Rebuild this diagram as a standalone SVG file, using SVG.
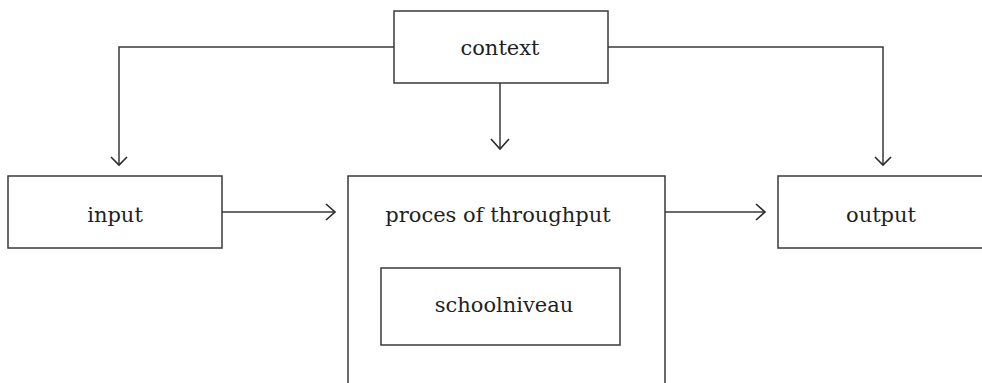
<svg xmlns="http://www.w3.org/2000/svg" width="982" height="383" viewBox="0 0 982 383">
<style>
.box{fill:none;stroke:#3a3a3a;stroke-width:1.5}
.ln{fill:none;stroke:#3a3a3a;stroke-width:1.5}
.hd{fill:none;stroke:#2a2a2a;stroke-width:1.6;stroke-linejoin:miter}
text{font-family:"DejaVu Serif","Liberation Serif",serif;font-size:21px;fill:#231f20;text-anchor:middle}
</style>
<rect width="982" height="383" fill="#fff"/>
<g id="context"><rect class="box" x="394" y="11" width="214" height="72"/><text x="500" y="55">context</text></g>
<g id="input"><rect class="box" x="8" y="176" width="214" height="72"/><text x="115" y="222">input</text></g>
<g id="process"><path class="box" d="M348,384 V176 H665 V384"/><text x="498" y="222">proces of throughput</text></g>
<g id="schoolniveau"><rect class="box" x="381" y="268" width="239" height="77"/><text x="504" y="312">schoolniveau</text></g>
<g id="output"><path class="box" d="M983,176 H778 V248 H983"/><text x="881" y="222">output</text></g>
<g id="connectors">
<path class="ln" d="M394,47 H119 V165"/><path class="hd" d="M111,157 L119,165 L127,157"/>
<path class="ln" d="M608,47 H883 V165"/><path class="hd" d="M875,157 L883,165 L891,157"/>
<path class="ln" d="M500,83 V149"/><path class="hd" d="M491,139 L500,149 L509,139"/>
<path class="ln" d="M222,212 H335"/><path class="hd" d="M326,204 L335,212 L326,220"/>
<path class="ln" d="M665,212 H765"/><path class="hd" d="M756,204 L765,212 L756,220"/>
</g>
</svg>
